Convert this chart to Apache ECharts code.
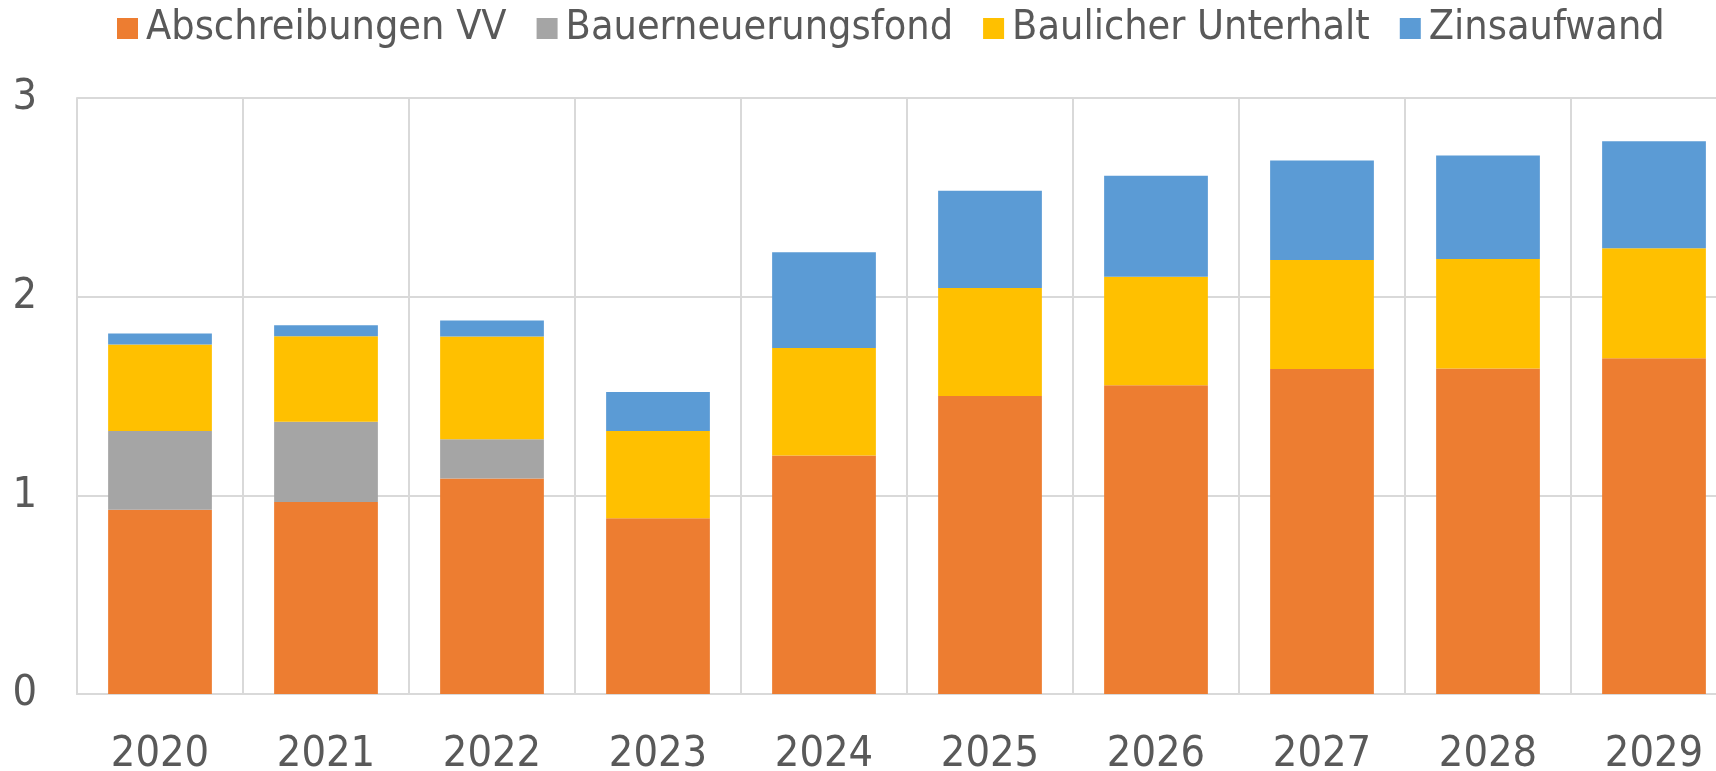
<!DOCTYPE html>
<html>
<head>
<meta charset="utf-8">
<script src="https://cdn.jsdelivr.net/npm/echarts@6/dist/echarts.min.js"></script>
<style>
  html, body { margin: 0; padding: 0; background: #fff; overflow: hidden; }
  /* the original chart is cut off on the right, so the canvas is wider than the window */
  #chart { width: 1737px; height: 771px; }
</style>
</head>
<body>
<div id="chart"></div>
<script>
// categories (years)
const years = ['2020', '2021', '2022', '2023', '2024', '2025', '2026', '2027', '2028', '2029']

// stacked series values
const abschreibungen = [0.927, 0.966, 1.085, 0.885, 1.201, 1.500, 1.554, 1.636, 1.638, 1.690]
const bauerneuerung = [0.397, 0.405, 0.197, 0, 0, 0, 0, 0, 0, 0]
const unterhalt = [0.435, 0.430, 0.517, 0.439, 0.541, 0.544, 0.546, 0.548, 0.551, 0.554]
const zinsen = [0.055, 0.055, 0.081, 0.196, 0.482, 0.489, 0.509, 0.502, 0.522, 0.538]

const seriesNames = ['Abschreibungen VV', 'Bauerneuerungsfond', 'Baulicher Unterhalt', 'Zinsaufwand']
const seriesColors = ['#ED7D31', '#A5A5A5', '#FFC000', '#5B9BD5']

const font = '"DejaVu Sans Condensed", "DejaVu Sans", sans-serif'
const textColor = '#595959'
const gridColor = '#D9D9D9'

const chart = echarts.init(document.getElementById('chart'))

function makeSeries(name, data, color) {
  return {
    name,
    type: 'bar',
    stack: 'total',
    barWidth: '62.5%',
    itemStyle: { color },
    data
  }
}

chart.setOption({
  animation: false,
  textStyle: { fontFamily: font },
  legend: {
    left: 117,
    top: 8,
    padding: 0,
    itemWidth: 21,
    itemHeight: 21,
    itemGap: 30,
    icon: 'rect',
    textStyle: { fontSize: 41, color: textColor, fontFamily: font, padding: [0, 0, 0, 3] },
    data: seriesNames
  },
  grid: {
    left: 77,
    right: 0,
    top: 98,
    bottom: 77,
    containLabel: false,
    outerBoundsMode: 'none'
  },
  xAxis: {
    type: 'category',
    data: years,
    axisLine: { show: true, lineStyle: { color: gridColor, width: 2 } },
    axisTick: { show: false },
    splitLine: { show: true, lineStyle: { color: gridColor, width: 2 } },
    axisLabel: { fontSize: 43, color: textColor, fontFamily: font, margin: 39 }
  },
  yAxis: {
    type: 'value',
    min: 0,
    max: 3,
    interval: 1,
    axisLine: { show: true, lineStyle: { color: gridColor, width: 2 } },
    axisTick: { show: false },
    splitLine: { show: true, lineStyle: { color: gridColor, width: 2 } },
    axisLabel: { fontSize: 43, color: textColor, fontFamily: font, margin: 40, padding: [6, 0, 0, 0] }
  },
  series: [
    makeSeries(seriesNames[0], abschreibungen, seriesColors[0]),
    makeSeries(seriesNames[1], bauerneuerung, seriesColors[1]),
    makeSeries(seriesNames[2], unterhalt, seriesColors[2]),
    makeSeries(seriesNames[3], zinsen, seriesColors[3])
  ]
})
</script>
</body>
</html>
